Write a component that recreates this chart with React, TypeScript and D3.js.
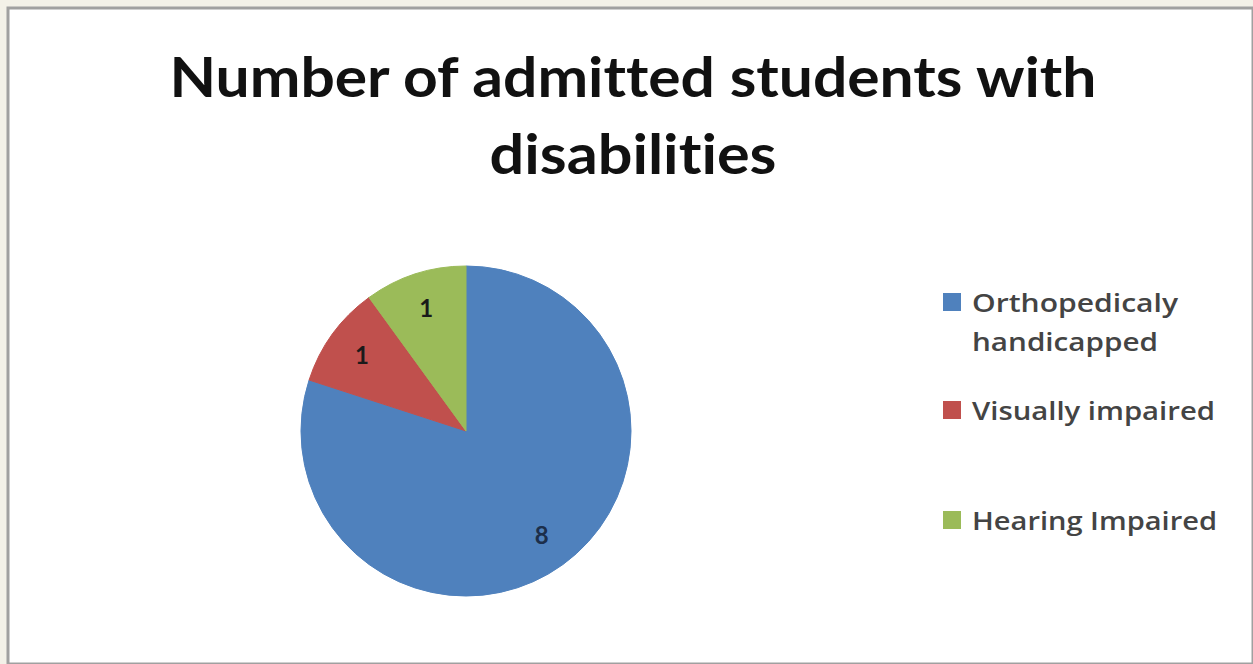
import React, { useEffect, useRef } from 'react';
import * as d3 from 'd3';

const width = 1253;
const height = 664;

const categories = ['Orthopedicaly handicapped', 'Visually impaired', 'Hearing Impaired'];
const values = [8, 1, 1];
const colors = ['#4F81BD', '#C0504D', '#9BBB59'];
const titleLines = ['Number of admitted students with', 'disabilities'];
// legend label lines, wrapped like the original
const legendLines = [['Orthopedicaly', 'handicapped'], ['Visually impaired'], ['Hearing Impaired']];

export default function App() {
  const ref = useRef<SVGSVGElement>(null);

  useEffect(() => {
    if (!ref.current) return;
    const svg = d3.select(ref.current);
    svg.selectAll('*').remove();

    svg.append('rect').attr('width', width).attr('height', height).attr('fill', '#f3f1e8');
    svg
      .append('rect')
      .attr('x', 8)
      .attr('y', 8)
      .attr('width', width - 8)
      .attr('height', height - 8)
      .attr('fill', '#ffffff')
      .attr('stroke', '#a0a0a0')
      .attr('stroke-width', 3);

    // title
    const titleWidths = [927, 287];
    const titleY = [97, 174];
    svg
      .selectAll('text.title')
      .data(titleLines)
      .enter()
      .append('text')
      .attr('class', 'title')
      .attr('x', 633)
      .attr('y', (_, i) => titleY[i])
      .attr('text-anchor', 'middle')
      .attr('font-family', 'Lato, sans-serif')
      .attr('font-weight', 'bold')
      .attr('font-size', 56)
      .style('font-variant-ligatures', 'none')
      .attr('fill', '#111')
      .attr('textLength', (_, i) => titleWidths[i])
      .attr('lengthAdjust', 'spacingAndGlyphs')
      .text((d) => d);

    // pie
    const cx = 466;
    const cy = 431;
    const r = 165;
    const pie = d3
      .pie<number>()
      .sort(null)
      .value((d) => d);
    const arcs = pie(values);
    const arc = d3.arc<d3.PieArcDatum<number>>().innerRadius(0).outerRadius(r);
    const labelArc = d3
      .arc<d3.PieArcDatum<number>>()
      .innerRadius(r * 0.78)
      .outerRadius(r * 0.78);

    const g = svg.append('g').attr('transform', `translate(${cx}, ${cy})`);
    g.selectAll('path')
      .data(arcs)
      .enter()
      .append('path')
      .attr('d', arc)
      .attr('fill', (_, i) => colors[i])
      .attr('stroke', (_, i) => colors[i])
      .attr('stroke-width', 1);

    g.selectAll('text')
      .data(arcs)
      .enter()
      .append('text')
      .attr('transform', (d) => {
        const [x, y] = labelArc.centroid(d);
        return `translate(${x}, ${y})`;
      })
      .attr('text-anchor', 'middle')
      .attr('dy', '0.35em')
      .attr('font-family', 'Lato, sans-serif')
      .attr('font-weight', 'bold')
      .attr('font-size', 24)
      .attr('fill', (_, i) => (i === 0 ? '#1c2e4a' : '#1a1a1a'))
      .text((d) => d.data);

    // legend
    const legendY = [312, 420, 530];
    const lineWidths = [[206, 186], [243], [245]];
    const legend = svg
      .selectAll('g.legend')
      .data(categories)
      .enter()
      .append('g')
      .attr('class', 'legend')
      .attr('transform', (_, i) => `translate(943, ${legendY[i]})`);

    legend
      .append('rect')
      .attr('x', 0)
      .attr('y', -19)
      .attr('width', 18)
      .attr('height', 18)
      .attr('fill', (_, i) => colors[i]);

    legend.each(function (_, i) {
      d3.select(this)
        .selectAll('text')
        .data(legendLines[i])
        .enter()
        .append('text')
        .attr('x', 29)
        .attr('y', (_, j) => j * 39)
        .attr('font-family', '"Open Sans", sans-serif')
        .attr('font-weight', 600)
        .attr('font-size', 25)
        .attr('fill', '#444')
        .attr('textLength', (_, j) => lineWidths[i][j])
        .attr('lengthAdjust', 'spacingAndGlyphs')
        .text((d) => d);
    });
  }, []);

  return (
    <div style={{ position: 'absolute', left: 0, top: 0 }}>
      <svg ref={ref} width={width} height={height} style={{ display: 'block' }} />
    </div>
  );
}
